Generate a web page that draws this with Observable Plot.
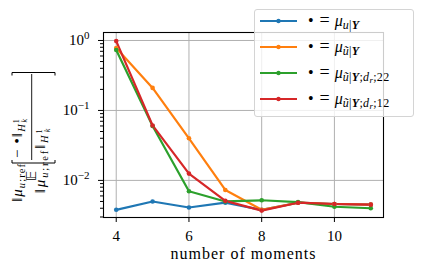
<!DOCTYPE html>
<html><head><meta charset="utf-8">
<script src="https://cdn.jsdelivr.net/npm/d3@7"></script>
<script src="https://cdn.jsdelivr.net/npm/@observablehq/plot@0.6"></script>
<style>
body{margin:0;background:#fff;}
#wrap{position:relative;width:423px;height:277px;overflow:hidden;}
#legend{position:absolute;left:254px;top:9px;width:158px;height:106px;border:1px solid #d4d4d4;border-radius:3px;background:rgba(255,255,255,0.8);font-family:"Liberation Serif",serif;}
.row{position:absolute;left:0;height:20px;width:158px;}
.row svg{position:absolute;left:5px;top:5px;}
.lab{position:absolute;left:53px;top:0;font-size:16px;line-height:20px;white-space:nowrap;}
.lab sub{font-size:12px;vertical-align:-3px;letter-spacing:0.3px;}
.lab sub sub{font-size:9px;vertical-align:-2px;}
.eq{margin:0 5px 0 6px;font-size:18px;line-height:16px;}
</style></head><body><div id="wrap"></div>
<script>
// ---- data ----
const moments = [4, 5, 6, 7, 8, 9, 10, 11];
const errMuU      = [0.0038, 0.0050, 0.0041, 0.0048, 0.0038, 0.0048, 0.0046, 0.0045];
const errMuUt     = [0.78, 0.21, 0.040, 0.0073, 0.0038, 0.0048, 0.0046, 0.0045];
const errMuUtD22  = [0.73, 0.060, 0.0070, 0.0050, 0.0052, 0.0049, 0.0042, 0.0040];
const errMuUtD12  = [0.98, 0.061, 0.0125, 0.0051, 0.0037, 0.0048, 0.0046, 0.0045];
const seriesNames = ["muU", "muUt", "muUtD22", "muUtD12"];
const seriesValues = [errMuU, errMuUt, errMuUtD22, errMuUtD12];
const seriesColors = ["#1f77b4", "#ff7f0e", "#2ca02c", "#d62728"];
const seriesLabels = [
  '<i>μ</i><sub><i>u</i>|<b><i>Y</i></b></sub>',
  '<i>μ</i><sub><i>ũ</i>|<b><i>Y</i></b></sub>',
  '<i>μ</i><sub><i>ũ</i>|<b><i>Y</i></b>;<i>d</i><sub><i>r</i></sub>;22</sub>',
  '<i>μ</i><sub><i>ũ</i>|<b><i>Y</i></b>;<i>d</i><sub><i>r</i></sub>;12</sub>'
];
const xTicks = [4, 6, 8, 10];
const yMajor = [0.01, 0.1, 1];
const yMajorExp = ["−2", "−1", "0"];
const yMinor = [0.003,0.004,0.005,0.006,0.007,0.008,0.009,0.02,0.03,0.04,0.05,0.06,0.07,0.08,0.09,0.2,0.3,0.4,0.5,0.6,0.7,0.8,0.9];
const xLabel = "number of moments";

const data = seriesNames.flatMap((s, i) => moments.map((m, j) => ({m, v: seriesValues[i][j], s})));

const plot = Plot.plot({
  width: 423, height: 277,
  marginLeft: 103, marginRight: 40, marginTop: 32, marginBottom: 60,
  style: {fontFamily: "Liberation Serif", fontSize: "15px", background: "white", color: "black"},
  x: {domain: [3.65, 11.35]},
  y: {type: "log", domain: [0.00295, 1.30]},
  color: {domain: seriesNames, range: seriesColors},
  marks: [
    Plot.ruleX(xTicks, {stroke: "#b0b0b0", strokeWidth: 1}),
    Plot.ruleY(yMajor, {stroke: "#b0b0b0", strokeWidth: 1}),
    Plot.line(data, {x: "m", y: "v", stroke: "s", z: "s", strokeWidth: 2.2}),
    Plot.dot(data, {x: "m", y: "v", fill: "s", r: 2.3}),
    Plot.axisX(xTicks, {tickSize: 5, tickPadding: 8, fontSize: 15, label: null}),
    Plot.axisY(yMinor, {tickSize: 3, tickFormat: () => "", label: null}),
    Plot.axisY(yMajor, {tickSize: 5, tickPadding: 9, fontSize: 15, tickFormat: d => "10", label: null}),
    Plot.text([xLabel], {frameAnchor: "bottom", dy: 41.5, fontSize: 16, text: d => d}),
    Plot.frame({stroke: "black", strokeWidth: 1.1})
  ]
});
document.getElementById("wrap").appendChild(plot);

// superscript exponents on y tick labels
const svg = d3.select(plot);
svg.selectAll('g[aria-label="y-axis tick label"]').each(function() {
  const texts = d3.select(this).selectAll("text");
  if (texts.size() === yMajor.length) {
    texts.each(function(d, i) {
      const t = d3.select(this);
      t.text("10");
      t.append("tspan").attr("dy", "-6").attr("font-size", "11px").text(yMajorExp[i]);
    });
  }
});

// x label letter spacing (to match serif width)
svg.selectAll('g[aria-label="text"] text').attr("letter-spacing", "1px");

// y axis label: E[ ||mu_{u;ref} - •||_{H^1_k} / ||mu_{u;ref}||_{H^1_k} ]
const g = svg.append("g").attr("font-family", "Liberation Serif").attr("fill", "black");
g.append("path").attr("d", "M12,160 V163 H55 V160 M12,75.5 V72.5 H55 V75.5")
  .attr("fill", "none").attr("stroke", "black").attr("stroke-width", 1);
const r = g.append("g").attr("transform", "rotate(-90)");
r.append("line").attr("x1", -160).attr("x2", -74).attr("y1", 31.7).attr("y2", 31.7)
  .attr("stroke", "black").attr("stroke-width", 0.9);
function normText(sel, x, y, withDot, spacing) {
  const t = sel.append("text").attr("x", x).attr("y", y).attr("font-size", "15px").attr("letter-spacing", spacing + "px");
  t.append("tspan").text("‖");
  t.append("tspan").attr("font-style", "italic").text("μ");
  t.append("tspan").attr("font-size", "10.5px").attr("dy", 3).html('<tspan font-style="italic">u</tspan>;ref');
  if (withDot) {
    t.append("tspan").attr("dy", -3).text(" − •‖");
  } else {
    t.append("tspan").attr("dy", -3).text("‖");
  }
  t.append("tspan").attr("font-size", "10.5px").attr("font-style", "italic").attr("dy", 3).text("H");
  t.append("tspan").attr("font-size", "8px").attr("dy", -6).text("1");
  t.append("tspan").attr("font-size", "8px").attr("font-style", "italic").attr("dx", -4.5).attr("dy", 8).text("k");
}
normText(r, -160, 22, true, 1.1);
normText(r, -160, 45, false, 1.8);
r.append("text").attr("x", -176).attr("y", 36).attr("text-anchor", "middle")
  .attr("font-family", "DejaVu Sans").attr("font-size", "14px").text("𝔼");

// legend
const legend = d3.select("#wrap").append("div").attr("id", "legend");
seriesNames.forEach((s, i) => {
  const row = legend.append("div").attr("class", "row").style("top", (1 + i * 25.9) + "px");
  const sv = row.append("svg").attr("width", 40).attr("height", 10);
  sv.append("line").attr("x1", 0).attr("x2", 37).attr("y1", 5).attr("y2", 5)
    .attr("stroke", seriesColors[i]).attr("stroke-width", 2.2);
  sv.append("circle").attr("cx", 18.5).attr("cy", 5).attr("r", 2.2).attr("fill", seriesColors[i]);
  row.append("div").attr("class", "lab").html('•<span class="eq">=</span>' + seriesLabels[i]);
});
</script>
</body></html>
